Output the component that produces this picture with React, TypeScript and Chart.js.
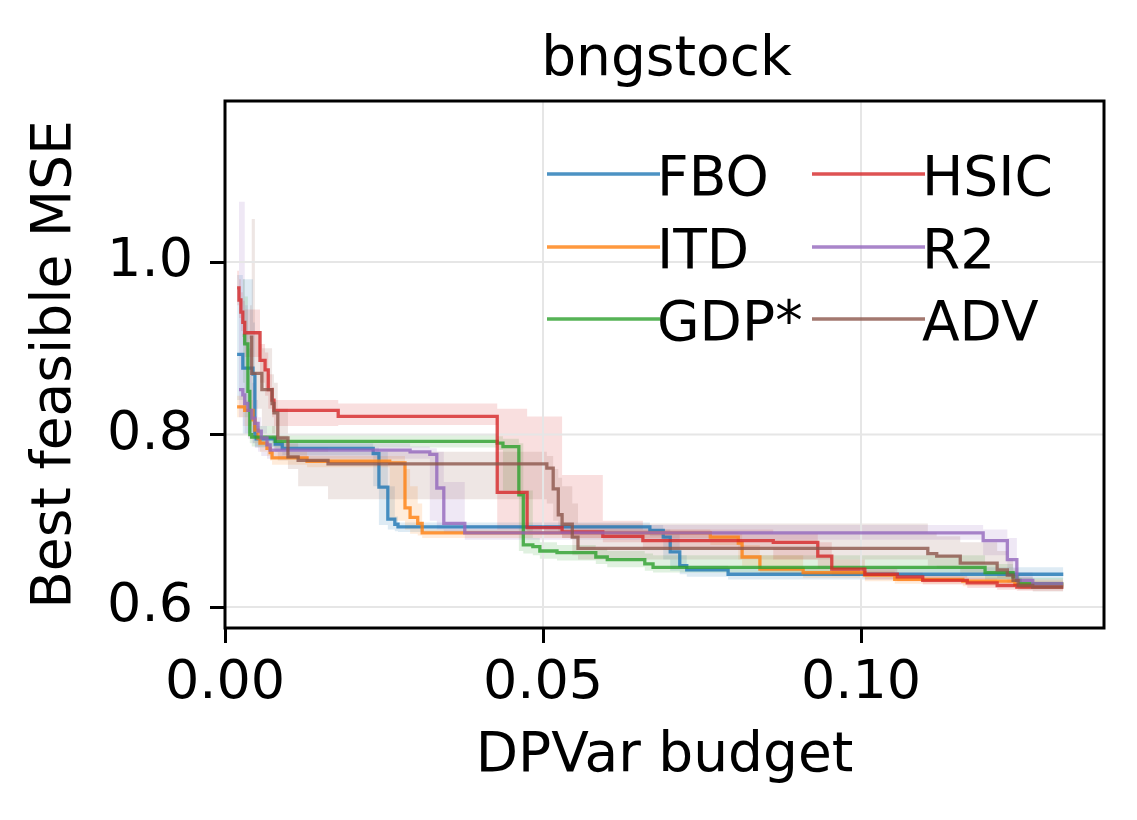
import React, { useEffect, useRef } from 'react';
import { Chart, registerables } from 'chart.js';

Chart.register(...registerables);

const FONT = "'DejaVu Sans', sans-serif";

// ---- axes ----
const X_TICKS = [0, 0.05, 0.1];
const Y_TICKS = [0.6, 0.8, 1.0];
const X_MIN = 0;
const X_MAX = 0.1382;
const Y_MIN = 0.5757;
const Y_MAX = 1.1867;
const TITLE = 'bngstock';
const X_LABEL = 'DPVar budget';
const Y_LABEL = 'Best feasible MSE';

// ---- series: FBO ----
const FBO_X = [0.0019, 0.0028, 0.0044, 0.0047, 0.0049, 0.0079, 0.0090, 0.0233, 0.0242, 0.0256, 0.0267, 0.0272, 0.0668, 0.0689, 0.0700, 0.0715, 0.0726, 0.0791, 0.1318];
const FBO_Y = [0.893, 0.877, 0.870, 0.800, 0.795, 0.789, 0.784, 0.778, 0.739, 0.702, 0.696, 0.693, 0.689, 0.681, 0.664, 0.648, 0.643, 0.638, 0.638];
const FBO_HI = [0.985, 0.980, 0.930, 0.870, 0.800, 0.795, 0.790, 0.785, 0.780, 0.740, 0.705, 0.698, 0.695, 0.690, 0.685, 0.660, 0.648, 0.646, 0.646];
const FBO_LO = [0.840, 0.800, 0.790, 0.785, 0.785, 0.780, 0.776, 0.740, 0.695, 0.690, 0.688, 0.687, 0.682, 0.655, 0.642, 0.638, 0.635, 0.632, 0.632];

// ---- series: ITD ----
const ITD_X = [0.0019, 0.0031, 0.0044, 0.0047, 0.0052, 0.0055, 0.0066, 0.0071, 0.0074, 0.0129, 0.0259, 0.0283, 0.0291, 0.0303, 0.0310, 0.0763, 0.0807, 0.0813, 0.0841, 0.0909, 0.1006, 0.1053, 0.1160, 0.1242, 0.1318];
const ITD_Y = [0.832, 0.828, 0.817, 0.805, 0.796, 0.790, 0.784, 0.779, 0.773, 0.769, 0.767, 0.715, 0.704, 0.697, 0.686, 0.681, 0.674, 0.658, 0.644, 0.640, 0.637, 0.632, 0.630, 0.626, 0.626];
const ITD_HI = [0.845, 0.840, 0.830, 0.815, 0.805, 0.800, 0.790, 0.785, 0.780, 0.775, 0.775, 0.760, 0.740, 0.720, 0.690, 0.687, 0.685, 0.672, 0.660, 0.645, 0.642, 0.638, 0.636, 0.632, 0.632];
const ITD_LO = [0.820, 0.810, 0.800, 0.790, 0.785, 0.780, 0.775, 0.770, 0.765, 0.762, 0.700, 0.690, 0.685, 0.683, 0.680, 0.672, 0.655, 0.648, 0.638, 0.634, 0.630, 0.627, 0.624, 0.621, 0.621];

// ---- series: GDP* ----
const GDP_X = [0.0028, 0.0031, 0.0036, 0.0039, 0.0042, 0.0079, 0.0428, 0.0437, 0.0462, 0.0469, 0.0484, 0.0495, 0.0522, 0.0583, 0.0601, 0.0660, 0.0673, 0.1195, 0.1239, 0.1245, 0.1250, 0.1318];
const GDP_Y = [0.915, 0.905, 0.850, 0.800, 0.797, 0.792, 0.790, 0.786, 0.730, 0.672, 0.670, 0.665, 0.663, 0.658, 0.655, 0.650, 0.646, 0.640, 0.635, 0.631, 0.627, 0.627];
const GDP_HI = [0.980, 0.960, 0.920, 0.860, 0.810, 0.800, 0.798, 0.795, 0.790, 0.735, 0.680, 0.675, 0.672, 0.668, 0.665, 0.662, 0.660, 0.650, 0.642, 0.638, 0.634, 0.634];
const GDP_LO = [0.860, 0.820, 0.800, 0.790, 0.786, 0.785, 0.782, 0.735, 0.665, 0.662, 0.660, 0.656, 0.654, 0.650, 0.646, 0.642, 0.640, 0.632, 0.628, 0.624, 0.621, 0.621];

// ---- series: HSIC ----
const HSIC_X = [0.0019, 0.0022, 0.0025, 0.0028, 0.0031, 0.0055, 0.0063, 0.0068, 0.0074, 0.0077, 0.0178, 0.0428, 0.0475, 0.0530, 0.0594, 0.0657, 0.0862, 0.0932, 0.0954, 0.1006, 0.1057, 0.1097, 0.1167, 0.1214, 0.1245, 0.1318];
const HSIC_Y = [0.970, 0.956, 0.942, 0.930, 0.918, 0.886, 0.875, 0.852, 0.840, 0.828, 0.821, 0.733, 0.692, 0.687, 0.682, 0.677, 0.675, 0.659, 0.644, 0.638, 0.635, 0.631, 0.628, 0.625, 0.623, 0.623];
const HSIC_HI = [0.990, 0.980, 0.965, 0.955, 0.945, 0.905, 0.895, 0.870, 0.855, 0.840, 0.836, 0.830, 0.821, 0.753, 0.700, 0.690, 0.685, 0.675, 0.655, 0.645, 0.640, 0.637, 0.634, 0.630, 0.628, 0.628];
const HSIC_LO = [0.950, 0.935, 0.920, 0.905, 0.890, 0.860, 0.845, 0.830, 0.820, 0.810, 0.811, 0.690, 0.685, 0.680, 0.675, 0.668, 0.655, 0.645, 0.636, 0.632, 0.630, 0.626, 0.622, 0.620, 0.619, 0.619];

// ---- series: R2 ----
const R2_X = [0.0022, 0.0028, 0.0031, 0.0036, 0.0042, 0.0047, 0.0052, 0.0057, 0.0066, 0.0071, 0.0291, 0.0322, 0.0333, 0.0344, 0.0377, 0.1192, 0.1230, 0.1245, 0.1270, 0.1318];
const R2_Y = [0.852, 0.846, 0.836, 0.828, 0.819, 0.813, 0.804, 0.796, 0.788, 0.782, 0.780, 0.777, 0.738, 0.697, 0.686, 0.677, 0.655, 0.631, 0.627, 0.627];
const R2_HI = [1.070, 1.070, 0.950, 0.900, 0.860, 0.840, 0.820, 0.810, 0.800, 0.790, 0.786, 0.784, 0.780, 0.745, 0.695, 0.690, 0.680, 0.640, 0.632, 0.632];
const R2_LO = [0.820, 0.810, 0.800, 0.795, 0.790, 0.785, 0.780, 0.775, 0.772, 0.772, 0.772, 0.700, 0.690, 0.686, 0.678, 0.660, 0.635, 0.625, 0.622, 0.622];

// ---- series: ADV ----
const ADV_X = [0.0039, 0.0042, 0.0047, 0.0058, 0.0074, 0.0077, 0.0083, 0.0099, 0.0115, 0.0162, 0.0506, 0.0516, 0.0524, 0.0530, 0.0546, 0.0555, 0.1105, 0.1119, 0.1156, 0.1214, 0.1230, 0.1239, 0.1247, 0.1270, 0.1318];
const ADV_Y = [0.913, 0.871, 0.871, 0.852, 0.836, 0.825, 0.796, 0.774, 0.770, 0.766, 0.761, 0.737, 0.707, 0.696, 0.681, 0.668, 0.662, 0.659, 0.651, 0.643, 0.637, 0.631, 0.625, 0.623, 0.623];
const ADV_HI = [0.950, 1.050, 0.920, 0.900, 0.870, 0.860, 0.830, 0.790, 0.785, 0.780, 0.775, 0.760, 0.750, 0.740, 0.720, 0.697, 0.686, 0.682, 0.675, 0.665, 0.655, 0.645, 0.635, 0.630, 0.630];
const ADV_LO = [0.860, 0.830, 0.830, 0.810, 0.790, 0.780, 0.770, 0.760, 0.740, 0.725, 0.720, 0.700, 0.685, 0.680, 0.660, 0.655, 0.648, 0.645, 0.638, 0.632, 0.628, 0.624, 0.620, 0.618, 0.618];

const SERIES_NAMES = ['FBO', 'ITD', 'GDP*', 'HSIC', 'R2', 'ADV'];
const SERIES_RGB = ['31,119,180', '255,127,14', '44,160,44', '214,39,40', '148,103,189', '140,86,75'];
const SERIES_DATA = [
  [FBO_X, FBO_Y, FBO_LO, FBO_HI],
  [ITD_X, ITD_Y, ITD_LO, ITD_HI],
  [GDP_X, GDP_Y, GDP_LO, GDP_HI],
  [HSIC_X, HSIC_Y, HSIC_LO, HSIC_HI],
  [R2_X, R2_Y, R2_LO, R2_HI],
  [ADV_X, ADV_Y, ADV_LO, ADV_HI],
];

const LINE_ALPHA = 0.8;
const BAND_ALPHA = 0.15;
const LINE_W = 3.3;
const GRID_COLOR = '#e6e6e6';

const pts = (xs: number[], ys: number[]) => xs.map((x, i) => ({ x, y: ys[i] }));

const gridPlugin = {
  id: 'midGrid',
  beforeDatasetDraw(chart: any, args: any) {
    const ds = chart.data.datasets[args.index];
    if (!ds || !ds.gridBefore) return;
    const { ctx, chartArea: a, scales } = chart;
    ctx.save();
    ctx.strokeStyle = GRID_COLOR;
    ctx.lineWidth = 2;
    X_TICKS.forEach((v) => {
      const px = scales.x.getPixelForValue(v);
      ctx.beginPath();
      ctx.moveTo(px, a.top);
      ctx.lineTo(px, a.bottom);
      ctx.stroke();
    });
    Y_TICKS.forEach((v) => {
      const py = scales.y.getPixelForValue(v);
      ctx.beginPath();
      ctx.moveTo(a.left, py);
      ctx.lineTo(a.right, py);
      ctx.stroke();
    });
    ctx.restore();
  },
};

const framePlugin = {
  id: 'frame',
  afterDatasetsDraw(chart: any) {
    const { ctx, chartArea: a } = chart;
    ctx.save();
    ctx.strokeStyle = '#000';
    ctx.lineWidth = 3;
    ctx.strokeRect(a.left, a.top, a.right - a.left, a.bottom - a.top);
    ctx.restore();
  },
};

const titlePlugin = {
  id: 'axTitle',
  afterDraw(chart: any) {
    const { ctx, chartArea: a } = chart;
    ctx.save();
    ctx.font = `55px ${FONT}`;
    ctx.fillStyle = '#000';
    ctx.textAlign = 'center';
    ctx.textBaseline = 'alphabetic';
    ctx.fillText(TITLE, (a.left + a.right) / 2 + 2, a.top - 26);
    ctx.restore();
  },
};

const legendPlugin = {
  id: 'mplLegend',
  afterDraw(chart: any) {
    const { ctx, chartArea: a } = chart;
    const colX = [a.left + 322, a.left + 587];
    const swatchW = 113;
    const rowY = [a.top + 73, a.top + 146, a.top + 218];
    ctx.save();
    ctx.font = `55px ${FONT}`;
    ctx.textAlign = 'left';
    ctx.textBaseline = 'alphabetic';
    SERIES_NAMES.forEach((name, i) => {
      const col = Math.floor(i / 3);
      const row = i % 3;
      const x0 = colX[col];
      const y0 = rowY[row];
      ctx.strokeStyle = `rgba(${SERIES_RGB[i]},${LINE_ALPHA})`;
      ctx.lineWidth = LINE_W;
      ctx.beginPath();
      ctx.moveTo(x0, y0);
      ctx.lineTo(x0 + swatchW, y0);
      ctx.stroke();
      ctx.fillStyle = '#000';
      ctx.fillText(name, x0 + swatchW - 3, y0 + 21);
    });
    ctx.restore();
  },
};

export default function App() {
  const canvasRef = useRef<HTMLCanvasElement | null>(null);

  useEffect(() => {
    if (!canvasRef.current) return;
    Chart.defaults.font.family = FONT;
    Chart.defaults.color = '#000';

    const datasets: any[] = [];
    const n = SERIES_NAMES.length;
    // confidence bands (drawn first, below grid)
    SERIES_DATA.forEach(([xs, , lo, hi], i) => {
      datasets.push({
        label: SERIES_NAMES[i] + ' hi',
        data: pts(xs, hi),
        stepped: 'before',
        borderWidth: 0,
        borderColor: 'rgba(0,0,0,0)',
        pointRadius: 0,
        backgroundColor: `rgba(${SERIES_RGB[i]},${BAND_ALPHA})`,
        fill: '+1',
        order: 100 - i,
      });
      datasets.push({
        label: SERIES_NAMES[i] + ' lo',
        data: pts(xs, lo),
        stepped: 'before',
        borderWidth: 0,
        borderColor: 'rgba(0,0,0,0)',
        pointRadius: 0,
        fill: false,
        order: 100 - i,
      });
    });
    // mean lines
    SERIES_DATA.forEach(([xs, ys], i) => {
      datasets.push({
        label: SERIES_NAMES[i],
        data: pts(xs, ys),
        stepped: 'before',
        borderWidth: LINE_W,
        borderColor: `rgba(${SERIES_RGB[i]},${LINE_ALPHA})`,
        pointRadius: 0,
        fill: false,
        order: n - i,
        gridBefore: i === 0,
      });
    });

    const chart = new Chart(canvasRef.current, {
      type: 'line',
      data: { datasets },
      plugins: [gridPlugin, framePlugin, titlePlugin, legendPlugin],
      options: {
        responsive: false,
        animation: false,
        devicePixelRatio: 1,
        layout: { padding: { top: 101, right: 33, bottom: 0, left: 0 } },
        plugins: {
          legend: { display: false },
          tooltip: { enabled: false },
          title: { display: false },
        },
        scales: {
          x: {
            type: 'linear',
            min: X_MIN,
            max: X_MAX,
            afterBuildTicks: (s: any) => {
              s.ticks = X_TICKS.map((v) => ({ value: v }));
            },
            afterFit: (s: any) => {
              s.height = 192;
            },
            ticks: {
              callback: (v: any) => Number(v).toFixed(2),
              font: { family: FONT, size: 54 },
              color: '#000',
              padding: 9,
              maxRotation: 0,
              autoSkip: false,
            },
            grid: {
              drawOnChartArea: false,
              drawTicks: true,
              tickLength: 15,
              tickColor: '#000',
              tickWidth: 3,
            },
            border: { display: false },
            title: {
              display: true,
              text: X_LABEL,
              color: '#000',
              font: { family: FONT, size: 55 },
              padding: { top: 0, bottom: 30 },
            },
          },
          y: {
            type: 'linear',
            min: Y_MIN,
            max: Y_MAX,
            afterBuildTicks: (s: any) => {
              s.ticks = Y_TICKS.map((v) => ({ value: v }));
            },
            afterFit: (s: any) => {
              s.width = 225;
            },
            ticks: {
              callback: (v: any) => Number(v).toFixed(1),
              font: { family: FONT, size: 54 },
              color: '#000',
              padding: 17,
              autoSkip: false,
            },
            grid: {
              drawOnChartArea: false,
              drawTicks: true,
              tickLength: 15,
              tickColor: '#000',
              tickWidth: 3,
            },
            border: { display: false },
            title: {
              display: true,
              text: Y_LABEL,
              color: '#000',
              font: { family: FONT, size: 55 },
              padding: { top: 23, bottom: 0 },
            },
          },
        },
      },
    } as any);

    return () => {
      chart.destroy();
    };
  }, []);

  return (
    <div style={{ position: 'fixed', left: 0, top: 0, width: 1137, height: 820, background: '#fff' }}>
      <canvas ref={canvasRef} width={1137} height={820} style={{ display: 'block', width: 1137, height: 820 }} />
    </div>
  );
}
